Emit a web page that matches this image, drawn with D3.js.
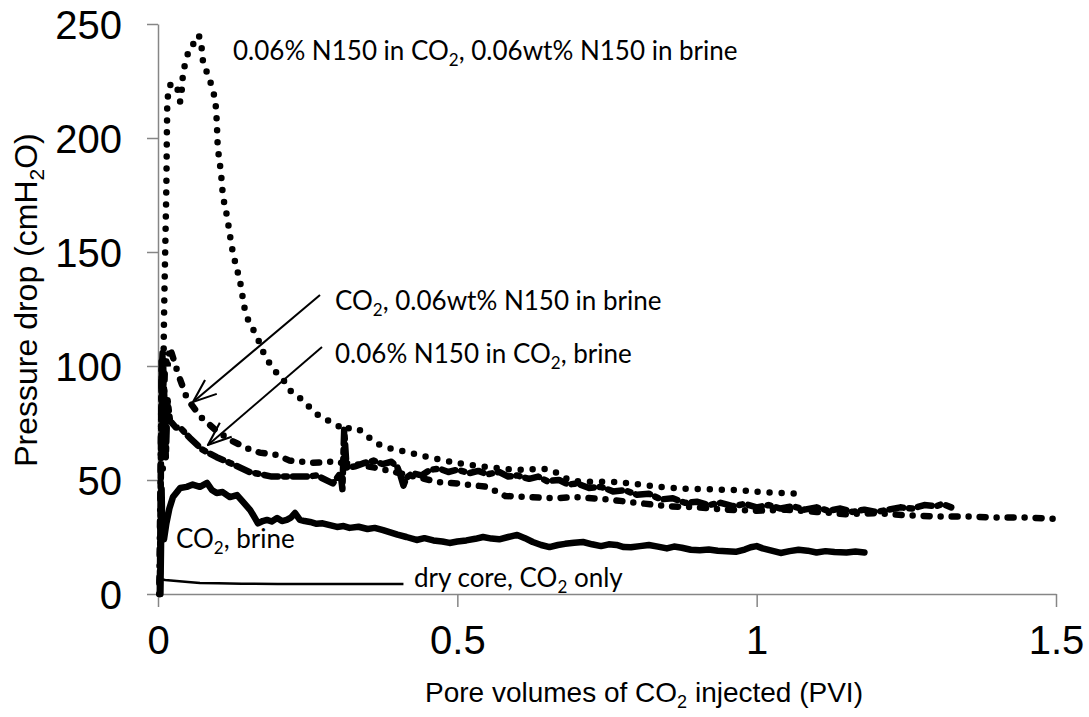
<!DOCTYPE html>
<html>
<head>
<meta charset="utf-8">
<script src="https://cdn.jsdelivr.net/npm/d3@7"></script>
<style>
  body { margin: 0; background: #fff; }
  svg { display: block; }
</style>
</head>
<body>
<div id="chart"></div>
<script>
// tick values
const xTicks = [0, 0.5, 1, 1.5];
const yTicks = [0, 50, 100, 150, 200, 250];

// 0.06% N150 in CO2, 0.06wt% N150 in brine (dotted)
const foamBoth = [[0.008,55],[0.009,90],[0.01,120],[0.012,150],[0.014,180],[0.015,205],[0.016,216],[0.02,223],
  [0.028,224],[0.033,221],[0.037,216],[0.04,222],[0.042,228],[0.05,237],[0.057,240],[0.065,245],[0.07,244],
  [0.075,234],[0.08,230],[0.087,225],[0.095,217],[0.098,208],[0.1,196],[0.105,185],[0.109,174],[0.115,166],
  [0.125,150],[0.137,137],[0.148,122],[0.165,113],[0.178,105],[0.195,98],[0.209,94],[0.225,88],[0.237,86],
  [0.27,78],[0.3,74],[0.307,72],[0.328,73],[0.37,65.5],[0.42,62],[0.47,59],[0.525,56.5],[0.6,54.5],
  [0.653,54.5],[0.69,50],[0.77,49],[0.86,46.5],[0.97,45.5],[1.02,44.5],[1.075,44]];

// CO2, 0.06wt% N150 in brine (dot-dash)
const brineSurf = [[0.002,0],[0.004,45],[0.006,95],[0.008,108],[0.01,85],[0.012,104],[0.016,100],[0.02,108],
  [0.026,103],[0.033,97],[0.048,86],[0.07,78],[0.1,71],[0.125,67],[0.148,64],[0.17,62],[0.198,61],[0.22,58.5],
  [0.258,57.5],[0.29,58],[0.33,57],[0.37,55],[0.42,52],[0.47,49],[0.5,48.5],[0.55,47],[0.58,43],[0.62,42.5],
  [0.66,42],[0.7,42.5],[0.75,41.5],[0.8,40],[0.85,38.5],[0.9,38],[0.95,37],[1.0,36.5],[1.05,37],[1.1,36],
  [1.15,35],[1.2,35.5],[1.25,34.5],[1.3,34],[1.35,34],[1.4,33.5],[1.45,33.5],[1.5,33]];

// 0.06% N150 in CO2, brine (dashed, noisy)
const co2Surf = [[0.003,0],[0.005,60],[0.006,102],[0.008,70],[0.01,90],[0.013,60],[0.016,85],[0.02,76],
  [0.03,73],[0.037,73],[0.053,68.5],[0.073,63.5],[0.098,60],[0.12,57.5],[0.153,53.5],[0.19,51.5],[0.22,51.5],
  [0.248,51.5],[0.265,52],[0.292,48.5],[0.305,53],[0.308,46],[0.311,72],[0.315,55.5],[0.33,56],[0.345,57.5],
  [0.36,58.5],[0.375,57],[0.39,58],[0.4,55.5],[0.405,52],[0.41,47.5],[0.415,51],[0.425,53],[0.44,52],
  [0.455,54.5],[0.47,55],[0.485,53.5],[0.5,54.5],[0.52,53],[0.535,54],[0.55,52.5],[0.57,53.5],[0.585,51.5],
  [0.6,52],[0.62,50.5],[0.635,51.5],[0.65,49.5],[0.67,50],[0.685,48],[0.7,48.5],[0.72,46.5],[0.74,47],
  [0.76,45],[0.78,45.5],[0.8,43.5],[0.82,44],[0.84,41.5],[0.86,42],[0.88,40],[0.9,40.5],[0.92,39],[0.94,40],
  [0.96,38.5],[0.98,39.5],[1.0,38],[1.02,39],[1.04,37.5],[1.06,38.5],[1.08,37],[1.1,38],[1.12,36.5],
  [1.14,37.5],[1.16,36],[1.18,37],[1.2,36],[1.22,37],[1.24,38],[1.26,37.5],[1.28,39],[1.3,38.5],[1.31,39.5],
  [1.325,38]];

// CO2, brine (solid thick)
const co2Brine = [[0.004,0],[0.005,20],[0.006,46],[0.007,30],[0.01,24],[0.014,31],[0.019,37.5],[0.025,42.5],
  [0.037,46.5],[0.048,47],
  [0.058,48],[0.07,47],[0.082,48.7],[0.09,45.6],[0.098,44.3],[0.108,44.7],[0.12,42.5],[0.132,43.4],[0.142,40.4],
  [0.154,36.8],[0.162,33.3],[0.167,31],[0.175,32],[0.182,32.5],[0.19,31.8],[0.199,33.3],[0.207,32],[0.215,32.5],
  [0.222,33.5],[0.229,35.5],[0.237,32.5],[0.245,32],[0.254,31.6],[0.265,30.8],[0.275,31],[0.287,30.2],
  [0.299,29.4],[0.31,29.8],[0.32,29],[0.335,29.5],[0.35,28.5],[0.362,29],[0.376,28],[0.388,27],[0.4,26],
  [0.415,25],[0.432,23.7],[0.445,24.5],[0.46,23.5],[0.475,23],[0.487,22.4],[0.5,23],[0.515,23.5],[0.53,24.2],
  [0.543,25],[0.557,24.3],[0.57,24],[0.585,25],[0.6,25.9],[0.613,24.5],[0.626,22.8],[0.64,21.5],[0.654,20.6],
  [0.668,21.5],[0.68,22],[0.695,22.5],[0.71,22.8],[0.725,21.8],[0.74,21],[0.753,21.8],[0.766,21.5],[0.778,20.6],
  [0.79,20.5],[0.805,21],[0.82,21.5],[0.835,20.8],[0.85,20],[0.862,20.8],[0.875,20.3],[0.89,19.4],[0.905,19.2],
  [0.92,19.5],[0.935,19],[0.95,18.8],[0.965,18.5],[0.98,19.5],[0.99,20.5],[1.0,21],[1.01,20],[1.025,19],
  [1.04,18],[1.055,18.8],[1.07,19.4],[1.085,19],[1.1,18.2],[1.115,18.8],[1.13,18.4],[1.15,18.2],[1.165,18.6],
  [1.18,18.2]];

// dry core, CO2 only (thin solid)
const dryCore = [[0.003,0],[0.005,6.5],[0.012,6.1],[0.05,5.3],[0.07,4.8],[0.1,4.7],[0.14,4.5],[0.2,4.4],[0.41,4.4]];

const W = 1089, H = 717;
const plotLeft = 158, plotRight = 1056, plotTop = 24, plotBottom = 594;

const svg = d3.select("#chart").append("svg").attr("width", W).attr("height", H);

const x = d3.scaleLinear().domain([0, 1.5]).range([plotLeft, plotRight]);
const y = d3.scaleLinear().domain([0, 250]).range([plotBottom, plotTop]);

const axisColor = "#868686";
const tickFont = "'Liberation Sans', Arial, sans-serif";
const noteFont = "Lato, 'Open Sans', sans-serif";

// y axis
const gy = svg.append("g").attr("transform", "translate(" + plotLeft + ",0)")
  .call(d3.axisLeft(y).tickValues(yTicks).tickSize(11).tickSizeOuter(0).tickFormat(d3.format("d")));
gy.select(".domain").attr("stroke", axisColor).attr("stroke-width", 1.5);
gy.selectAll(".tick line").attr("stroke", axisColor).attr("stroke-width", 1.5);
gy.selectAll(".tick text").attr("x", -36).attr("dy", "0.35em")
  .style("font-family", tickFont).style("font-size", "40px").attr("fill", "#000");

// x axis
const gx = svg.append("g").attr("transform", "translate(0," + plotBottom + ")")
  .call(d3.axisBottom(x).tickValues(xTicks).tickSize(13).tickSizeOuter(0).tickFormat(d => d));
gx.select(".domain").attr("stroke", axisColor).attr("stroke-width", 1.5);
gx.selectAll(".tick line").attr("stroke", axisColor).attr("stroke-width", 1.5);
gx.selectAll(".tick text").attr("y", 60).attr("dy", null)
  .style("font-family", tickFont).style("font-size", "40px").attr("fill", "#000");

const line = d3.line().x(d => x(d[0])).y(d => y(d[1]));

// series
svg.append("path").datum(dryCore).attr("d", line)
  .attr("fill", "none").attr("stroke", "#000").attr("stroke-width", 2.5);

svg.append("path").datum(co2Brine).attr("d", line)
  .attr("fill", "none").attr("stroke", "#000").attr("stroke-width", 6.5)
  .attr("stroke-linejoin", "round").attr("stroke-linecap", "round");

svg.append("path").datum(co2Surf).attr("d", line)
  .attr("fill", "none").attr("stroke", "#000").attr("stroke-width", 6.5)
  .attr("stroke-linecap", "round").attr("stroke-linejoin", "round").attr("stroke-dasharray", "14,6,3,6");

svg.append("path").datum(brineSurf).attr("d", line)
  .attr("fill", "none").attr("stroke", "#000").attr("stroke-width", 6.5)
  .attr("stroke-linecap", "round").attr("stroke-dasharray", "0,11,6,11");

svg.append("path").datum(foamBoth).attr("d", line.curve(d3.curveCatmullRom))
  .attr("fill", "none").attr("stroke", "#000").attr("stroke-width", 6.5)
  .attr("stroke-linecap", "round").attr("stroke-dasharray", "0,12");

// arrows
svg.append("defs").append("marker")
  .attr("id", "head").attr("viewBox", "0 0 20 20").attr("refX", 19).attr("refY", 10)
  .attr("markerWidth", 26).attr("markerHeight", 26).attr("markerUnits", "userSpaceOnUse")
  .attr("orient", "auto")
  .append("path").attr("d", "M1,3 L19,10 L1,17").attr("fill", "none").attr("stroke", "#000").attr("stroke-width", 1.6);

const arrows = [[320, 295, 193, 402], [322, 347, 208, 445]];
svg.selectAll(".arrow").data(arrows).enter().append("line")
  .attr("class", "arrow")
  .attr("x1", d => d[0]).attr("y1", d => d[1]).attr("x2", d => d[2]).attr("y2", d => d[3])
  .attr("stroke", "#000").attr("stroke-width", 2).attr("marker-end", "url(#head)");

// annotation text with subscripts
function note(px, py, parts, size, family) {
  const t = svg.append("text").attr("x", px).attr("y", py)
    .style("font-family", family || noteFont).style("font-size", size + "px").attr("fill", "#000");
  const shift = Math.round(size * 0.22);
  let back = 0;
  parts.forEach(p => {
    if (typeof p === "string") {
      const s = t.append("tspan").text(p);
      if (back) { s.attr("dy", -back); back = 0; }
    } else {
      t.append("tspan").attr("dy", shift).style("font-size", Math.round(size * 0.65) + "px").text(p.sub);
      back = shift;
    }
  });
  return t;
}

note(233, 60, ["0.06% N150 in CO", {sub: "2"}, ", 0.06wt% N150 in brine"], 26);
note(335, 310, ["CO", {sub: "2"}, ", 0.06wt% N150 in brine"], 26);
note(335, 363, ["0.06% N150 in CO", {sub: "2"}, ", brine"], 26);
note(176, 548, ["CO", {sub: "2"}, ", brine"], 26);
note(414, 587, ["dry core, CO", {sub: "2"}, " only"], 26);

// axis titles
note(425, 702, ["Pore volumes of CO", {sub: "2"}, " injected (PVI)"], 28, tickFont);

note(0, 0, ["Pressure drop (cmH", {sub: "2"}, "O)"], 32, tickFont)
  .attr("transform", "translate(37,300) rotate(-90)").attr("text-anchor", "middle");
</script>
</body>
</html>
